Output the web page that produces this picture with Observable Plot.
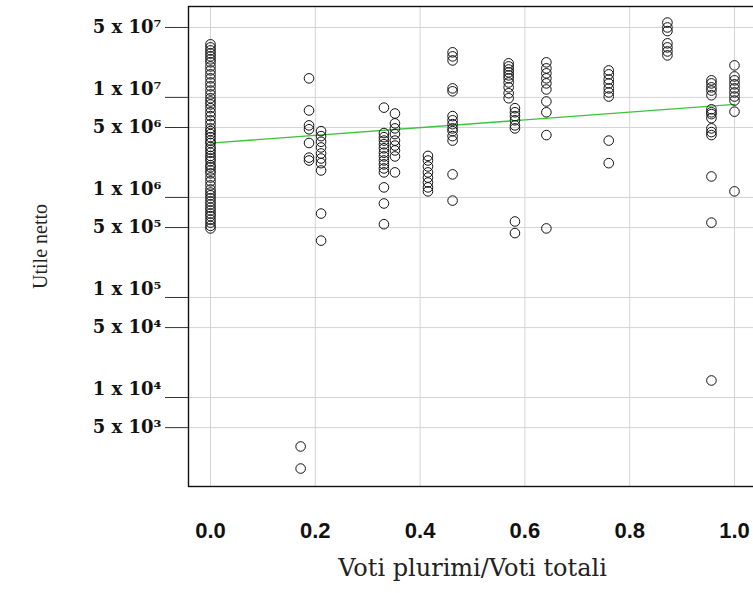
<!DOCTYPE html>
<html>
<head>
<meta charset="utf-8">
<script src="https://cdn.jsdelivr.net/npm/d3@7"></script>
<script src="https://cdn.jsdelivr.net/npm/@observablehq/plot@0.6"></script>
<style>
  html, body { margin: 0; padding: 0; background: white; overflow: hidden; }
  #chart svg { display: block; overflow: hidden; }
</style>
</head>
<body>
<div id="chart"></div>
<script>
// Share of plural votes (x groups) and net profit values (y) per group
const ratioGroups = [0, 0.172, 0.188, 0.211, 0.331, 0.352, 0.415, 0.462, 0.569, 0.581, 0.641, 0.76, 0.872, 0.956, 1.0];
const utileGroups = [
  [3.39e7, 3.16e7, 2.95e7, 2.75e7, 2.57e7, 2.40e7, 2.24e7, 2.04e7, 1.86e7, 1.70e7, 1.55e7, 1.41e7, 1.29e7, 1.17e7,
   1.07e7, 9.8e6, 9.1e6, 8.5e6, 7.8e6, 7.1e6, 6.5e6, 5.9e6, 5.4e6, 4.9e6, 4.6e6, 4.3e6, 4.0e6, 3.7e6, 3.5e6, 3.2e6,
   3.0e6, 2.8e6, 2.6e6, 2.45e6, 2.3e6, 2.1e6, 2.0e6, 1.86e6, 1.74e6, 1.58e6, 1.45e6, 1.32e6, 1.2e6, 1.12e6, 1.05e6,
   9.8e5, 9.1e5, 8.5e5, 7.9e5, 7.4e5, 6.9e5, 6.5e5, 6.0e5, 5.6e5, 5.2e5, 4.9e5],
  [3.24e3, 1.95e3],
  [1.55e7, 7.4e6, 5.25e6, 4.8e6, 3.5e6, 2.5e6, 2.34e6],
  [4.6e6, 4.1e6, 3.6e6, 3.16e6, 2.75e6, 2.45e6, 2.2e6, 1.86e6, 6.9e5, 3.7e5],
  [7.9e6, 4.4e6, 4.0e6, 3.7e6, 3.4e6, 3.1e6, 2.8e6, 2.57e6, 2.34e6, 2.14e6, 1.95e6, 1.78e6, 1.26e6, 8.7e5, 5.4e5],
  [6.9e6, 5.5e6, 4.9e6, 4.3e6, 3.7e6, 3.3e6, 2.95e6, 2.57e6, 1.78e6],
  [2.6e6, 2.34e6, 2.04e6, 1.78e6, 1.58e6, 1.41e6, 1.26e6, 1.15e6],
  [2.82e7, 2.57e7, 2.34e7, 1.23e7, 1.15e7, 6.5e6, 5.9e6, 5.4e6, 4.9e6, 4.6e6, 4.1e6, 3.7e6, 1.7e6, 9.3e5],
  [2.19e7, 2.04e7, 1.9e7, 1.78e7, 1.66e7, 1.55e7, 1.41e7, 1.26e7, 1.1e7, 9.8e6],
  [7.8e6, 7.1e6, 6.5e6, 5.9e6, 5.25e6, 4.9e6, 5.75e5, 4.4e5],
  [2.24e7, 1.95e7, 1.74e7, 1.55e7, 1.38e7, 1.2e7, 9.1e6, 7.1e6, 4.2e6, 4.9e5],
  [1.86e7, 1.70e7, 1.51e7, 1.38e7, 1.23e7, 1.12e7, 1.02e7, 3.7e6, 2.2e6],
  [5.6e7, 5.0e7, 4.6e7, 3.47e7, 3.16e7, 2.88e7, 2.63e7],
  [1.48e7, 1.38e7, 1.26e7, 1.17e7, 1.05e7, 7.6e6, 7.1e6, 6.8e6, 6.2e6, 4.9e6, 4.5e6, 4.2e6, 1.62e6, 5.6e5, 1.48e4],
  [2.09e7, 1.62e7, 1.48e7, 1.35e7, 1.23e7, 1.12e7, 1.02e7, 9.3e6, 7.2e6, 1.15e6]
];

// Fitted line (log scale)
const fitX = [0, 1];
const fitY = [3.49e6, 8.5e6];

// Axis ticks and labels
const xTicks = [0, 0.2, 0.4, 0.6, 0.8, 1.0];
const xTickLabels = ["0.0", "0.2", "0.4", "0.6", "0.8", "1.0"];
const yTicksFive = [5e7, 5e6, 5e5, 5e4, 5e3];
const yLabelsFive = ["5 x 10\u2077", "5 x 10\u2076", "5 x 10\u2075", "5 x 10\u2074", "5 x 10\u00B3"];
const yTicksOne = [1e7, 1e6, 1e5, 1e4];
const yLabelsOne = ["1 x 10\u2077", "1 x 10\u2076", "1 x 10\u2075", "1 x 10\u2074"];
const yTicks = [...yTicksFive, ...yTicksOne];

const xTitle = "Voti plurimi/Voti totali";
const yTitle = "Utile netto";

const points = ratioGroups.flatMap((r, i) => utileGroups[i].map(v => ({ratio: r, utile: v})));
const fit = fitX.map((x, i) => ({x, y: fitY[i]}));

const serif = "'DejaVu Serif', 'Liberation Serif', serif";
const sans = "'Liberation Sans', Arial, sans-serif";

const chart = Plot.plot({
  width: 753,
  height: 593,
  marginLeft: 188,
  marginRight: -3,
  marginTop: 6,
  marginBottom: 107,
  style: {background: "white", overflow: "hidden"},
  x: {domain: [-0.042, 1.042]},
  y: {type: "log", domain: [1290, 8.1e7]},
  marks: [
    Plot.gridX(xTicks, {stroke: "#d4d4d4", strokeOpacity: 1, strokeWidth: 1}),
    Plot.gridY(yTicks, {stroke: "#d4d4d4", strokeOpacity: 1, strokeWidth: 1}),
    Plot.line(fit, {x: "x", y: "y", stroke: "#3cc23c", strokeWidth: 1.3}),
    Plot.dot(points, {x: "ratio", y: "utile", r: 4.8, stroke: "#111", strokeWidth: 1, fill: "none"}),
    Plot.frame({stroke: "#111", strokeWidth: 1.4}),
    Plot.axisX(xTicks, {tickSize: 14, tickPadding: 22, tickFormat: (d, i) => xTickLabels[i], fontSize: 22, fontWeight: "bold", fontFamily: sans, fill: "#111", stroke: null, label: null}),
    Plot.axisY(yTicks, {tickSize: 23, tickFormat: () => "", label: null, stroke: "#333"}),
    Plot.text(yTicksFive, {y: d => d, text: (d, i) => yLabelsFive[i], frameAnchor: "left", dx: -27, textAnchor: "end", fontSize: 18, fontWeight: "bold", fontFamily: serif, fill: "#111"}),
    Plot.text(yTicksOne, {y: d => d, text: (d, i) => yLabelsOne[i], frameAnchor: "left", dx: -27, dy: -8, textAnchor: "end", fontSize: 18, fontWeight: "bold", fontFamily: serif, fill: "#111"}),
    Plot.text([xTitle], {frameAnchor: "bottom", dy: 89, text: d => d, fontSize: 24, fontFamily: serif, fill: "#222"}),
    Plot.text([yTitle], {frameAnchor: "left", dx: -148, rotate: -90, textAnchor: "middle", text: d => d, fontSize: 20, fontFamily: "'Liberation Serif', serif", fill: "#222"})
  ]
});
document.getElementById("chart").appendChild(chart);
</script>
</body>
</html>
